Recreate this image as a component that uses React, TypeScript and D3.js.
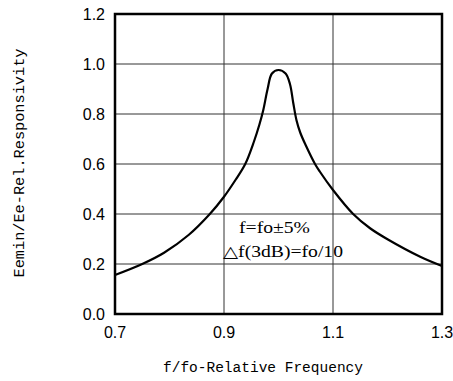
import React from 'react';
import * as d3 from 'd3';

// relative frequency f/fo and relative responsivity
const freq = [0.70, 0.75, 0.79, 0.835, 0.874, 0.90, 0.921, 0.939, 0.955, 0.965, 0.972, 0.98, 0.988, 1.00, 1.013, 1.021, 1.027, 1.033, 1.040, 1.05, 1.067, 1.076, 1.10, 1.137, 1.168, 1.20, 1.26, 1.30];
const resp = [0.156, 0.20, 0.245, 0.316, 0.40, 0.469, 0.536, 0.60, 0.69, 0.758, 0.815, 0.90, 0.962, 0.976, 0.962, 0.92, 0.845, 0.775, 0.725, 0.675, 0.60, 0.569, 0.496, 0.40, 0.343, 0.299, 0.229, 0.192];

const xTicks = [0.7, 0.9, 1.1, 1.3];
const yTicks = [0.0, 0.2, 0.4, 0.6, 0.8, 1.0, 1.2];
const notes = ['f=fo±5%', '△f(3dB)=fo/10'];

const W = 453;
const H = 381;
const margin = { top: 14, right: 11, bottom: 67, left: 115 };

export default function App() {
  const x = d3.scaleLinear().domain([0.7, 1.3]).range([margin.left, W - margin.right]);
  const y = d3.scaleLinear().domain([0, 1.2]).range([H - margin.bottom, margin.top]);

  const pts = freq.map((f, i) => [f, resp[i]] as [number, number]);
  const line = d3.line<[number, number]>()
    .x(d => x(d[0]))
    .y(d => y(d[1]))
    .curve(d3.curveCatmullRom.alpha(0.5));

  const sans = '"Liberation Sans", Arial, sans-serif';
  const mono = '"Liberation Mono", "DejaVu Sans Mono", monospace';
  const serif = '"Liberation Serif", "DejaVu Serif", serif';

  return (
    <svg width={W} height={H} style={{ position: 'absolute', left: 0, top: 0, background: '#fff' }}>
      {/* grid */}
      {yTicks.slice(1, -1).map(t => (
        <line key={'gy' + t} x1={x(0.7)} x2={x(1.3)} y1={y(t)} y2={y(t)} stroke="#333" strokeWidth={1} />
      ))}
      {xTicks.slice(1, -1).map(t => (
        <line key={'gx' + t} x1={x(t)} x2={x(t)} y1={y(0)} y2={y(1.2)} stroke="#333" strokeWidth={1} />
      ))}

      <path d={line(pts) || ''} fill="none" stroke="#000" strokeWidth={2.2} strokeLinejoin="round" />

      {/* frame */}
      <rect x={x(0.7)} y={y(1.2)} width={x(1.3) - x(0.7)} height={y(0) - y(1.2)} fill="none" stroke="#000" strokeWidth={2.5} />

      {yTicks.map(t => (
        <text key={'ty' + t} x={x(0.7) - 10} y={y(t) + 5.5} textAnchor="end" fontFamily={sans} fontSize={16} fill="#000">
          {d3.format('.1f')(t)}
        </text>
      ))}
      {xTicks.map(t => (
        <text key={'tx' + t} x={x(t)} y={y(0) + 24} textAnchor="middle" fontFamily={sans} fontSize={16} fill="#000">
          {d3.format('.1f')(t)}
        </text>
      ))}

      <text x={239} y={233} fontFamily={serif} fontSize={16} fill="#000" textLength={71} lengthAdjust="spacingAndGlyphs">{notes[0]}</text>
      <text x={223} y={257} fontFamily={serif} fontSize={16} fill="#000" textLength={120} lengthAdjust="spacingAndGlyphs">{notes[1]}</text>

      <text x={263} y={372} textAnchor="middle" fontFamily={mono} fontSize={14.5} fill="#000" textLength={200} lengthAdjust="spacingAndGlyphs">
        f/fo-Relative Frequency
      </text>
      <text transform="translate(24,163) rotate(-90)" textAnchor="middle" fontFamily={mono} fontSize={14.5} fill="#000" textLength={229} lengthAdjust="spacingAndGlyphs">
        Eemin/Ee-Rel.Responsivity
      </text>
    </svg>
  );
}
